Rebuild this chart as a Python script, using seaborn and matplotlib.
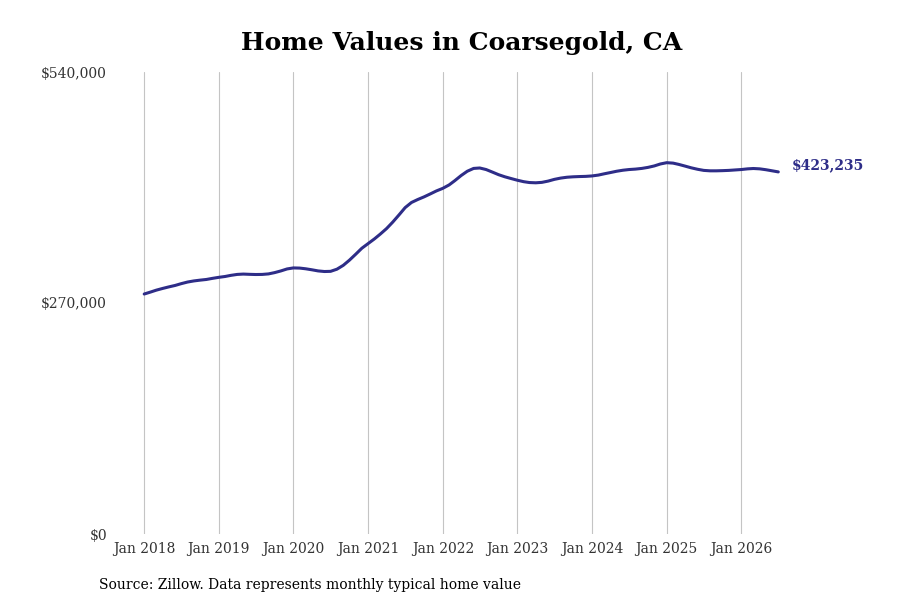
import pandas as pd
import numpy as np
import matplotlib
matplotlib.use('Agg')
import matplotlib.pyplot as plt
import matplotlib.dates as mdates
import seaborn as sns

# Monthly typical home value, Jan 2018 - Jul 2026
values = [
    280500, 282800, 285000, 287000, 288800, 290500, 292600, 294500, 295800, 296700, 297500, 298800,
    300000, 301000, 302300, 303400, 303800, 303500, 303300, 303400, 304000, 305500, 307500, 309800,
    311000, 310800, 310000, 308800, 307500, 306800, 307000, 309500, 314000, 320000, 327000, 334000,
    339500, 345000, 350500, 357000, 364500, 373000, 381500, 387500, 391000, 394000, 397500, 401000,
    404000, 408000, 413000, 419000, 424000, 427300, 427800, 426000, 423000, 420000, 417500, 415500,
    413500, 411800, 410800, 410500, 411000, 412500, 414500, 416000, 417000, 417500, 417800, 418000,
    418500, 419500, 421000, 422500, 424000, 425200, 426000, 426500, 427300, 428500, 430200, 432500,
    434000, 433500, 432000, 430000, 428000, 426300, 425000, 424500, 424500, 424700, 425000, 425500,
    426000, 426800, 427200, 426800, 425800, 424500, 423235,
]
start_month = '2018-01-01'
y_ticks = [0, 270000, 540000]
title = 'Home Values in Coarsegold, CA'
source = 'Source: Zillow. Data represents monthly typical home value'

dates = pd.date_range(start_month, periods=len(values), freq='MS')
df = pd.DataFrame({'date': dates, 'value': values})

line_color = '#2e2d88'

sns.set_style('white')
plt.rcParams['font.family'] = ['DejaVu Serif']

fig, ax = plt.subplots(figsize=(9, 6), dpi=100)
sns.lineplot(data=df, x='date', y='value', color=line_color, linewidth=2.2, ax=ax)

ax.set_ylim(0, 540000)
ax.set_yticks(y_ticks)
ax.set_yticklabels([f'${v:,.0f}' for v in y_ticks])
ax.xaxis.set_major_locator(mdates.YearLocator())
ax.xaxis.set_major_formatter(mdates.DateFormatter('Jan %Y'))
ax.tick_params(axis='both', length=0, labelsize=10, labelcolor='#333333')
ax.tick_params(axis='x', pad=6)
ax.tick_params(axis='y', pad=4)
ax.set_xlabel('')
ax.set_ylabel('')
ax.grid(axis='x', color='#c4c4c4', linewidth=0.8)
ax.grid(axis='y', visible=False)
for s in ax.spines.values():
    s.set_visible(False)

ax.set_title(title, fontsize=18, fontweight='bold', color='black', pad=16)

last = df.iloc[-1]
ax.annotate(f'${last.value:,.0f}', xy=(last.date, last.value), xytext=(10, 5),
            textcoords='offset points', fontsize=10, fontweight='bold',
            color=line_color, va='center', ha='left')

fig.text(0.11, 0.018, source, fontsize=10, color='black')

fig.savefig('out.png', dpi=100)
